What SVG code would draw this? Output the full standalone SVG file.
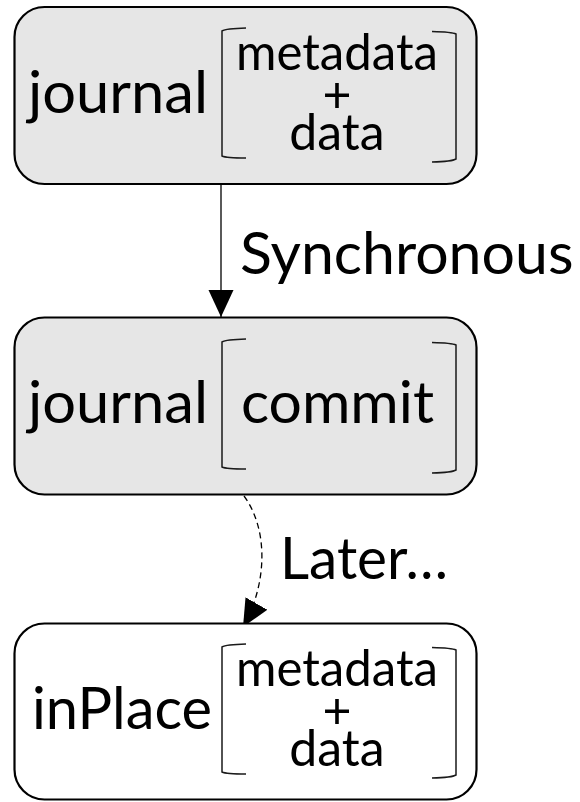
<svg xmlns="http://www.w3.org/2000/svg" xmlns:xlink="http://www.w3.org/1999/xlink" width="580" height="802" viewBox="0 0 580 802">
  <style>
    .box { stroke: #000; stroke-width: 2.2; }
    .grey { fill: #e6e6e6; }
    .white { fill: #ffffff; }
    .br { fill: none; stroke: #1a1a1a; stroke-width: 1.5; }
    .t { font-family: "Lato", "Open Sans", sans-serif; fill: #000; }
    .big { font-size: 59px; }
    .small { font-size: 50px; text-anchor: middle; }
    .conn { fill: none; stroke: #000; stroke-width: 1.3; }
    .dash { stroke-dasharray: 6 4; }
  </style>
  <defs>
    <marker id="arrow" markerUnits="userSpaceOnUse" markerWidth="28" markerHeight="26" refX="27" refY="12.5" orient="auto">
      <path d="M0,0 L27,12.5 L0,25 Z" fill="#000"/>
    </marker>
    <g id="brackets">
      <path class="br" d="M246,28 Q226,28.5 222,31 L222,156 Q226,158 246,158"/>
      <path class="br" d="M432,31.5 Q452,32 456,34 L456,159 Q452,161.5 432,162"/>
    </g>
  </defs>

  <g id="connectors">
    <path class="conn" d="M221,185 L221,317" marker-end="url(#arrow)"/>
    <path class="conn dash" d="M244,496 C269,530 267,585 243,627" marker-end="url(#arrow)"/>
    <text class="t" x="240" y="274" font-size="59">Synchronous</text>
    <text class="t" x="280" y="579" font-size="59" textLength="168" lengthAdjust="spacingAndGlyphs">Later…</text>
  </g>

  <g id="journal-data">
    <rect class="box grey" x="14.5" y="7" width="462" height="177" rx="30"/>
    <use xlink:href="#brackets"/>
    <text class="t big" x="28" y="113" textLength="180" lengthAdjust="spacingAndGlyphs">journal</text>
    <text class="t small"><tspan x="337" y="70" textLength="202" lengthAdjust="spacingAndGlyphs">metadata</tspan><tspan x="337" y="112">+</tspan><tspan x="337" y="150">data</tspan></text>
  </g>

  <g id="journal-commit">
    <rect class="box grey" x="14.5" y="317.5" width="462" height="177" rx="30"/>
    <use xlink:href="#brackets" transform="translate(0,311)"/>
    <text class="t big" x="28" y="423" textLength="180" lengthAdjust="spacingAndGlyphs">journal</text>
    <text class="t big" x="241" y="423" textLength="193" lengthAdjust="spacingAndGlyphs">commit</text>
  </g>

  <g id="inplace-data">
    <rect class="box white" x="14.5" y="623.5" width="462" height="176" rx="30"/>
    <use xlink:href="#brackets" transform="translate(0,616)"/>
    <text class="t big" x="32" y="729" textLength="180" lengthAdjust="spacingAndGlyphs">inPlace</text>
    <text class="t small"><tspan x="337" y="686" textLength="202" lengthAdjust="spacingAndGlyphs">metadata</tspan><tspan x="337" y="728">+</tspan><tspan x="337" y="766">data</tspan></text>
  </g>
</svg>
